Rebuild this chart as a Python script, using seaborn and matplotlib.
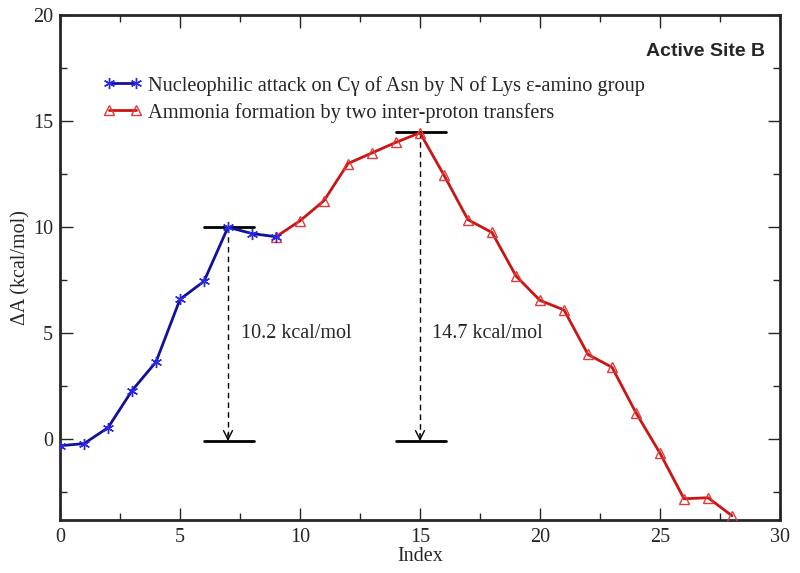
import matplotlib
matplotlib.use("Agg")
import matplotlib.pyplot as plt
import seaborn as sns
import pandas as pd

# Data
idx_blue = [0, 1, 2, 3, 4, 5, 6, 7, 8, 9]
val_blue = [-0.3, -0.2, 0.55, 2.3, 3.65, 6.6, 7.45, 10.0, 9.7, 9.55]
idx_red = [9, 10, 11, 12, 13, 14, 15, 16, 17, 18, 19, 20, 21, 22, 23, 24, 25, 26, 27, 28]
val_red = [9.55, 10.3, 11.25, 13.0, 13.5, 14.0, 14.45, 12.45, 10.35, 9.75, 7.7, 6.55,
           6.1, 4.0, 3.4, 1.25, -0.65, -2.8, -2.75, -3.6]
label_blue = "Nucleophilic attack on C\u03b3 of Asn by N of Lys \u03b5-amino group"
label_red = "Ammonia formation by two inter-proton transfers"
barrier_x = [7, 15]
barrier_top = [10.0, 14.48]
barrier_bottom = [-0.08, -0.08]
barrier_text = ["10.2 kcal/mol", "14.7 kcal/mol"]
barrier_text_x = [7.55, 15.5]

sns.set_style("ticks")
plt.rcParams['font.family'] = ['Liberation Serif', 'DejaVu Serif']

fig = plt.figure(figsize=(8.0, 5.73), dpi=100)
ax = fig.add_axes([0.075, 0.0925, 0.9, 0.8813])

df_b = pd.DataFrame({"Index": idx_blue, "dA": val_blue})
df_r = pd.DataFrame({"Index": idx_red, "dA": val_red})

sns.lineplot(data=df_r, x="Index", y="dA", ax=ax, color="#cc1414", lw=2,
             marker="^", markersize=7, markerfacecolor="none", markeredgecolor="#e03a3a",
             markeredgewidth=1.0, label=label_red, zorder=3)
sns.lineplot(data=df_b, x="Index", y="dA", ax=ax, color="#10109a", lw=2,
             marker=(6, 2, 0), markersize=8, markeredgecolor="#2a2ae6",
             markeredgewidth=1.0, label=label_blue, zorder=4)

for xb, yt, yb, t, tx in zip(barrier_x, barrier_top, barrier_bottom, barrier_text, barrier_text_x):
    ax.plot([xb - 1.0, xb + 1.1], [yt, yt], color="black", lw=2, zorder=2)
    ax.plot([xb - 1.0, xb + 1.1], [yb, yb], color="black", lw=2, zorder=2)
    ax.plot([xb, xb], [yt, yb + 0.3], color="black", lw=1.0, linestyle=(0, (4, 3)), zorder=2)
    ax.annotate("", xy=(xb, yb), xytext=(xb, yb + 0.35),
                arrowprops=dict(arrowstyle="->", color="black", lw=1.0,
                                shrinkA=0, shrinkB=0, mutation_scale=16), zorder=2)
    ax.text(tx, 5.0, t, fontsize=14.5, va="center", ha="left")

ax.set_xlim(0, 30)
ax.set_ylim(-3.8, 20)
ax.set_xticks([0, 5, 10, 15, 20, 25, 30])
ax.set_xticks([2.5, 7.5, 12.5, 17.5, 22.5, 27.5], minor=True)
ax.set_yticks([0, 5, 10, 15, 20])
ax.set_yticks([-2.5, 2.5, 7.5, 12.5, 17.5], minor=True)
ax.tick_params(which="both", direction="in", top=True, right=True, labelsize=14.5, width=1)
ax.tick_params(axis="x", which="major", pad=6)
ax.tick_params(axis="y", which="major", pad=5)
ax.tick_params(which="major", length=9)
ax.tick_params(which="minor", length=5)
for s in ax.spines.values():
    s.set_linewidth(2)
ax.set_xlabel("Index", fontsize=14.5, labelpad=0)
ax.set_ylabel("\u0394A (kcal/mol)", fontsize=14.5, labelpad=1.5)

h, l = ax.get_legend_handles_labels()
leg = ax.legend(h[::-1], l[::-1], loc="upper left", bbox_to_anchor=(0.06, 0.88),
                frameon=False, fontsize=14.7, handlelength=1.9, handletextpad=0.3,
                labelspacing=0.35, borderaxespad=0, borderpad=0, numpoints=2)

ax.text(0.979, 0.927, "Active Site B", transform=ax.transAxes, ha="right", va="center",
        fontsize=14, fontweight="bold", family="Liberation Sans")

fig.savefig("out.png", dpi=100)
